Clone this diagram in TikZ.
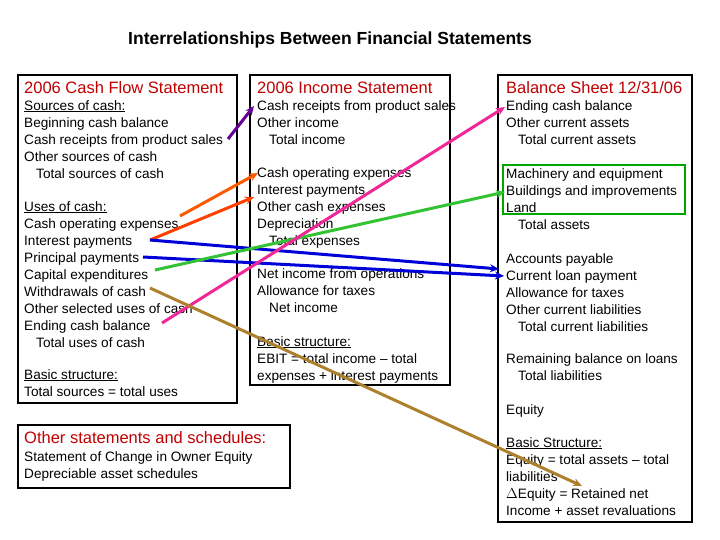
\documentclass[tikz,border=0pt]{standalone}
\usepackage{fontspec}
\usetikzlibrary{arrows.meta}
\setmainfont{Liberation Sans}
\begin{document}
\begin{tikzpicture}[x=1pt,y=-1pt,
 box/.style={draw=black,line width=1.8pt},
 txt/.style={anchor=north west,inner sep=0pt,align=left,font=\fontsize{13.6}{17}\selectfont},
 hd/.style={anchor=west,inner sep=0pt,font=\fontsize{16.5}{17}\selectfont,text=red!75!black},
 ar/.style={line width=3pt,-{Stealth[length=9pt,width=8pt]}}]
\useasboundingbox (0,0) rectangle (720,540);
\newcommand{\ind}{\hspace*{12pt}}
\node[inner sep=0pt,font=\bfseries\fontsize{17.5}{17}\selectfont] (title) at (330,40) {Interrelationships Between Financial Statements};
\draw[box] (18,75) rectangle (237,403);
\draw[box] (250,75) rectangle (450,385);
\draw[box] (498,75) rectangle (692,522);
\draw[box] (18,425) rectangle (290,488);
\draw[draw=green!65!black,line width=2.5pt] (503,165) rectangle (685,214);
\node[hd] (h1) at (24,88) {2006 Cash Flow Statement};
\node[hd] (h2) at (257,88) {2006 Income Statement};
\node[hd] (h3) at (506,88) {Balance Sheet 12/31/06};
\node[hd] (h4) at (24,438) {Other statements and schedules:};
\node[txt] (l1) at (24,100) {\underline{Sources of cash:}\\Beginning cash balance\\Cash receipts from product sales\\Other sources of cash\\\ind Total sources of cash};
\node[txt] (l2) at (24,201) {\underline{Uses of cash:}\\Cash operating expenses\\Interest payments\\Principal payments\\Capital expenditures\\Withdrawals of cash\\Other selected uses of cash\\Ending cash balance\\\ind Total uses of cash};
\node[txt] (l3) at (24,369) {\underline{Basic structure:}\\Total sources = total uses};
\node[txt] (m1) at (257,100) {Cash receipts from product sales\\Other income\\\ind Total income};
\node[txt] (m2) at (257,167) {Cash operating expenses\\Interest payments\\Other cash expenses\\Depreciation\\\ind Total expenses};
\node[txt] (m3) at (257,268) {Net income from operations\\Allowance for taxes\\\ind Net income};
\node[txt] (m4) at (257,336) {\underline{Basic structure:}\\EBIT = total income -- total\\expenses + interest payments};
\node[txt] (r1) at (506,100) {Ending cash balance\\Other current assets\\\ind Total current assets};
\node[txt] (r2) at (506,168) {Machinery and equipment\\Buildings and improvements\\Land\\\ind Total assets};
\node[txt] (r3) at (506,253) {Accounts payable\\Current loan payment\\Allowance for taxes\\Other current liabilities\\\ind Total current liabilities};
\node[txt] (r4) at (506,353) {Remaining balance on loans\\\ind Total liabilities};
\node[txt] (r5) at (506,404) {Equity};
\node[txt] (r6) at (506,437) {\underline{Basic Structure:}\\Equity = total assets -- total\\liabilities\\$\Delta$Equity = Retained net\\Income + asset revaluations};
\node[txt] (o1) at (24,451) {Statement of Change in Owner Equity\\Depreciable asset schedules};
\coordinate (a1) at (228,139); \coordinate (b1) at (254,106);
\coordinate (a2) at (180,216); \coordinate (b2) at (258,173);
\coordinate (a3) at (150,240); \coordinate (b3) at (254,197);
\coordinate (b4) at (499,269);
\coordinate (a5) at (143,257); \coordinate (b5) at (504,276);
\coordinate (a6) at (155,270); \coordinate (b6) at (505,192);
\coordinate (a7) at (162,323); \coordinate (b7) at (505,107);
\coordinate (a8) at (150,288); \coordinate (b8) at (582,486);
\draw[ar,draw=violet!80!blue] (a1) -- (b1);
\draw[ar,draw=orange!70!red] (a2) -- (b2);
\draw[ar,draw=orange!50!red] (a3) -- (b3);
\draw[ar,draw=blue!85!black] (a3) -- (b4);
\draw[ar,draw=blue!85!black] (a5) -- (b5);
\draw[ar,draw=green!70!black!80] (a6) -- (b6);
\draw[ar,draw=magenta!80!pink] (a7) -- (b7);
\draw[ar,draw=brown!70!olive] (a8) -- (b8);
\end{tikzpicture}
\end{document}
